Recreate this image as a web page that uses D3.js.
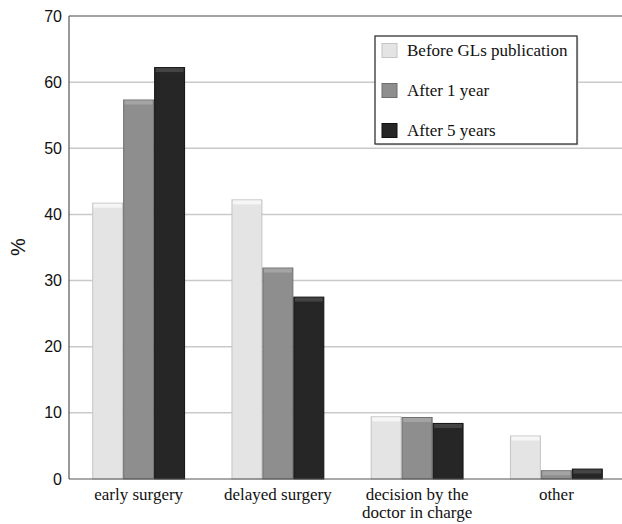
<!DOCTYPE html>
<html>
<head>
<meta charset="utf-8">
<script src="https://cdn.jsdelivr.net/npm/d3@7"></script>
<style>
  body { margin: 0; background: #fff; }
</style>
</head>
<body>
<div id="chart"></div>
<script>
const categories = ["early surgery", "delayed surgery", "decision by the|doctor in charge", "other"];
const seriesNames = ["Before GLs publication", "After 1 year", "After 5 years"];
const beforeGL = [41.7, 42.2, 9.4, 6.5];
const after1y = [57.3, 31.9, 9.3, 1.25];
const after5y = [62.2, 27.5, 8.4, 1.5];
const yTicks = [0, 10, 20, 30, 40, 50, 60, 70];

const seriesValues = [beforeGL, after1y, after5y];
const colors = ["#e4e4e4", "#8e8e8e", "#262626"];
const strokes = ["#c4c4c4", "#6e6e6e", "#111"];

const width = 622, height = 524;
const margin = {top: 16, right: -4, bottom: 45, left: 69};
const innerW = width - margin.left - margin.right;
const innerH = height - margin.top - margin.bottom;

const svg = d3.select("#chart").append("svg")
    .attr("width", width)
    .attr("height", height);

const g = svg.append("g")
    .attr("transform", `translate(${margin.left},${margin.top})`);

const x0 = d3.scaleBand()
    .domain(categories)
    .range([0, innerW])
    .paddingInner(0.333)
    .paddingOuter(0.1667);

const x1 = d3.scaleBand()
    .domain(d3.range(seriesNames.length))
    .range([0, x0.bandwidth()]);

const y = d3.scaleLinear().domain([0, 70]).range([innerH, 0]);

// gridlines
g.selectAll(".grid")
    .data(yTicks.filter(d => d > 0 && d < 70))
    .join("line")
    .attr("class", "grid")
    .attr("x1", 0).attr("x2", innerW)
    .attr("y1", d => y(d)).attr("y2", d => y(d))
    .attr("stroke", "#c9c9c9")
    .attr("stroke-width", 1.5);

// top border
g.append("line")
    .attr("x1", 0).attr("x2", innerW)
    .attr("y1", y(70)).attr("y2", y(70))
    .attr("stroke", "#444").attr("stroke-width", 1.2);

// bars
const groups = g.selectAll(".cat")
    .data(categories)
    .join("g")
    .attr("class", "cat")
    .attr("transform", d => `translate(${x0(d)},0)`);

groups.each(function(cat, ci) {
    const grp = d3.select(this);
    seriesValues.forEach((vals, si) => {
        const bx = x1(si), bw = x1.bandwidth(), v = vals[ci];
        grp.append("rect")
            .attr("x", bx + 0.5)
            .attr("y", y(v))
            .attr("width", bw - 1)
            .attr("height", innerH - y(v))
            .attr("fill", colors[si])
            .attr("stroke", strokes[si])
            .attr("stroke-width", 1);
        // bevel highlight on top
        grp.append("rect")
            .attr("x", bx + 1.5)
            .attr("y", y(v) + 0.5)
            .attr("width", bw - 3)
            .attr("height", Math.min(4, innerH - y(v)))
            .attr("fill", si === 0 ? "#f6f6f6" : si === 1 ? "#a4a4a4" : "#444");
    });
});

// axes lines
g.append("line")
    .attr("x1", 0).attr("x2", 0)
    .attr("y1", 0).attr("y2", innerH)
    .attr("stroke", "#555").attr("stroke-width", 1.2);
g.append("line")
    .attr("x1", 0).attr("x2", innerW)
    .attr("y1", innerH).attr("y2", innerH)
    .attr("stroke", "#555").attr("stroke-width", 1.2);

// y tick labels
const yAxis = g.append("g")
    .call(d3.axisLeft(y).tickValues(yTicks).tickSize(0).tickPadding(7));
yAxis.select(".domain").remove();
yAxis.selectAll("text")
    .attr("font-family", "Liberation Sans, Arial, sans-serif")
    .attr("font-size", "16px")
    .attr("fill", "#111");

// y title
svg.append("text")
    .attr("transform", "rotate(-90)")
    .attr("x", -247)
    .attr("y", 25)
    .attr("text-anchor", "middle")
    .attr("font-family", "Liberation Sans, Arial, sans-serif")
    .attr("font-size", "20px")
    .attr("fill", "#111")
    .text("%");

// x labels
categories.forEach(cat => {
    const lines = cat.split("|");
    const t = g.append("text")
        .attr("x", x0(cat) + x0.bandwidth() / 2)
        .attr("y", innerH + 21)
        .attr("text-anchor", "middle")
        .attr("font-family", "'Liberation Serif', 'Times New Roman', serif")
        .attr("font-size", "17px")
        .attr("fill", "#111");
    lines.forEach((ln, i) => {
        t.append("tspan")
            .attr("x", x0(cat) + x0.bandwidth() / 2)
            .attr("dy", i === 0 ? 0 : 18)
            .text(ln);
    });
});

// legend
const legend = svg.append("g").attr("transform", "translate(375,36)");
legend.append("rect")
    .attr("x", 1.5).attr("y", 1.5)
    .attr("width", 202).attr("height", 108)
    .attr("fill", "#ddd");
legend.append("rect")
    .attr("width", 202).attr("height", 108)
    .attr("fill", "#fff")
    .attr("stroke", "#333")
    .attr("stroke-width", 1.3);
seriesNames.forEach((name, i) => {
    const ly = 14 + i * 40;
    legend.append("rect")
        .attr("x", 7).attr("y", ly - 7 + 0.5)
        .attr("width", 15).attr("height", 14)
        .attr("fill", colors[i])
        .attr("stroke", strokes[i]);
    legend.append("text")
        .attr("x", 32).attr("y", ly + 6)
        .attr("font-family", "'Liberation Serif', 'Times New Roman', serif")
        .attr("font-size", "17px")
        .attr("fill", "#111")
        .text(name);
});
</script>
</body>
</html>
